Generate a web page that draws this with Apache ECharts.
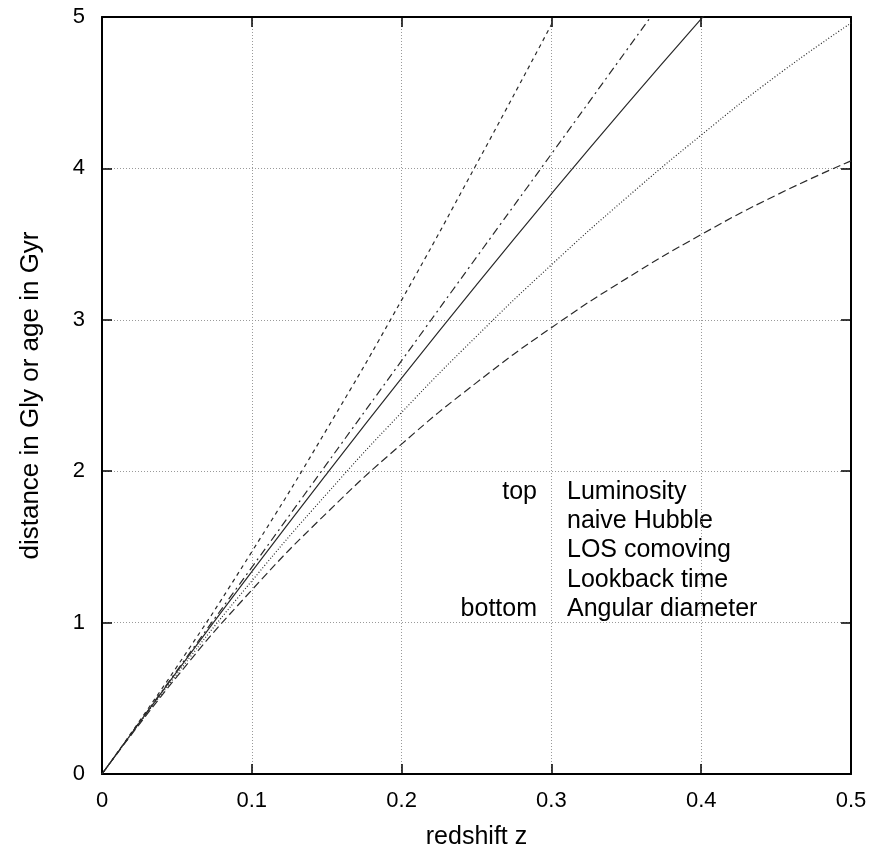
<!DOCTYPE html>
<html>
<head>
<meta charset="utf-8">
<script src="https://cdn.jsdelivr.net/npm/echarts@6/dist/echarts.min.js"></script>
<style>
  html, body { margin: 0; padding: 0; background: #fff; }
  #chart { width: 890px; height: 852px; }
</style>
</head>
<body>
<div id="chart"></div>
<script>
// redshift samples
var redshift = [0, 0.05, 0.10, 0.15, 0.20, 0.25, 0.30, 0.35, 0.40, 0.45, 0.50];
// series values (Gly or Gyr)
var luminosity   = [0, 0.709, 1.468, 2.276, 3.130, 4.028, 4.950, null, null, null, null];
var naiveHubble  = [0, 0.683, 1.365, 2.048, 2.730, 3.413, 4.095, 4.778, 5.460, 6.143, 6.825];
var losComoving  = [0, 0.676, 1.337, 1.983, 2.615, 3.231, 3.832, 4.418, 4.988, 5.543, 6.083];
var lookbackTime = [0, 0.660, 1.275, 1.850, 2.388, 2.891, 3.363, 3.805, 4.220, 4.610, 4.960];
var angularDiam  = [0, 0.643, 1.215, 1.724, 2.179, 2.585, 2.948, 3.272, 3.563, 3.823, 4.050];

var seriesNames = ['Luminosity', 'naive Hubble', 'LOS comoving', 'Lookback time', 'Angular diameter'];
var seriesData = [luminosity, naiveHubble, losComoving, lookbackTime, angularDiam];
var dashStyles = [[4, 4], [8, 4, 2, 4], 'solid', [1, 2], [8, 4]];
var keyEnds = ['top', 'bottom'];

var xTicks = [0, 0.1, 0.2, 0.3, 0.4, 0.5];
var yTicks = [0, 1, 2, 3, 4, 5];

var FONT = '"Liberation Sans", Arial, Helvetica, sans-serif';

function pairs(vals) {
  var out = [];
  for (var i = 0; i < redshift.length; i++) {
    if (vals[i] !== null) out.push([redshift[i], vals[i]]);
  }
  return out;
}

var series = seriesNames.map(function (name, i) {
  return {
    name: name,
    type: 'line',
    xAxisIndex: 0,
    yAxisIndex: 0,
    data: pairs(seriesData[i]),
    showSymbol: false,
    symbol: 'none',
    smooth: true,
    clip: true,
    animation: false,
    lineStyle: { color: '#2a2a2a', width: 1.2, type: dashStyles[i] }
  };
});

var keyLeft = 567, keyRight = 537, keyTop = 492, keyStep = 29.3, keyFont = '25px ' + FONT;
var graphics = [];
seriesNames.forEach(function (name, i) {
  graphics.push({
    type: 'text', silent: true,
    style: { text: name, x: keyLeft, y: keyTop + i * keyStep, fill: '#000',
      font: keyFont, textAlign: 'left', textVerticalAlign: 'middle',
      align: 'left', verticalAlign: 'middle' }
  });
});
graphics.push({
  type: 'text', silent: true,
  style: { text: keyEnds[0], x: keyRight, y: keyTop, fill: '#000',
    font: keyFont, textAlign: 'right', textVerticalAlign: 'middle',
    align: 'right', verticalAlign: 'middle' }
});
graphics.push({
  type: 'text', silent: true,
  style: { text: keyEnds[1], x: keyRight, y: keyTop + 4 * keyStep, fill: '#000',
    font: keyFont, textAlign: 'right', textVerticalAlign: 'middle',
    align: 'right', verticalAlign: 'middle' }
});

var axisLineStyle = { show: true, onZero: false, lineStyle: { color: '#000', width: 2 } };
var tickStyle = { show: true, inside: true, length: 10, lineStyle: { color: '#000', width: 1.5 } };
var gridLine = { show: true, lineStyle: { color: '#9a9a9a', width: 1, type: [1, 2] } };

var chart = echarts.init(document.getElementById('chart'), null, { renderer: 'canvas' });
chart.setOption({
  backgroundColor: '#fff',
  animation: false,
  grid: { left: 102, right: 39, top: 17, bottom: 78, containLabel: false, outerBoundsMode: 'none' },
  xAxis: [{
    type: 'value', position: 'bottom', min: xTicks[0], max: xTicks[xTicks.length - 1], interval: 0.1,
    name: 'redshift z', nameLocation: 'middle', nameGap: 51,
    nameTextStyle: { color: '#000', fontSize: 25, fontFamily: FONT },
    axisLine: axisLineStyle, axisTick: tickStyle, splitLine: gridLine,
    axisLabel: { color: '#000', fontSize: 22, fontFamily: FONT, margin: 16,
      formatter: function (v) { return String(+v.toFixed(1)); } }
  }, {
    type: 'value', position: 'top', min: xTicks[0], max: xTicks[xTicks.length - 1], interval: 0.1,
    axisLine: axisLineStyle, axisTick: tickStyle, splitLine: { show: false },
    axisLabel: { show: false }
  }],
  yAxis: [{
    type: 'value', position: 'left', min: yTicks[0], max: yTicks[yTicks.length - 1], interval: 1,
    name: 'distance in Gly or age in Gyr', nameLocation: 'middle', nameGap: 58, nameRotate: 90,
    nameTextStyle: { color: '#000', fontSize: 26, fontFamily: FONT },
    axisLine: axisLineStyle, axisTick: tickStyle, splitLine: gridLine,
    axisLabel: { color: '#000', fontSize: 22, fontFamily: FONT, margin: 17 }
  }, {
    type: 'value', position: 'right', min: yTicks[0], max: yTicks[yTicks.length - 1], interval: 1,
    axisLine: axisLineStyle, axisTick: tickStyle, splitLine: { show: false },
    axisLabel: { show: false }
  }],
  series: series,
  graphic: graphics
});
</script>
</body>
</html>
